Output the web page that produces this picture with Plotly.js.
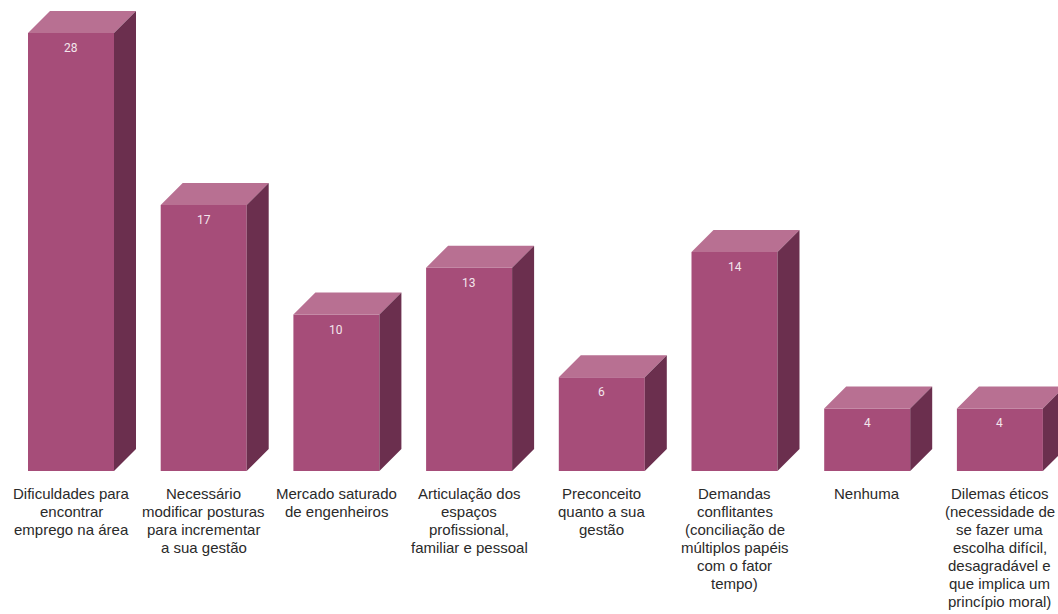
<!DOCTYPE html>
<html><head><meta charset="utf-8">
<script src="https://cdn.plot.ly/plotly-3.0.1.min.js"></script>
<style>html,body{margin:0;padding:0;background:#fff}#chart{width:1058px;height:614px}</style>
</head><body><div id="chart"></div>
<script>
const categories = [
  "Dificuldades para<br>encontrar<br>emprego na área",
  "Necessário<br>modificar posturas<br>para incrementar<br>a sua gestão",
  "Mercado saturado<br>de engenheiros",
  "Articulação dos<br>espaços<br>profissional,<br>familiar e pessoal",
  "Preconceito<br>quanto a sua<br>gestão",
  "Demandas<br>conflitantes<br>(conciliação de<br>múltiplos papéis<br>com o fator<br>tempo)",
  "Nenhuma",
  "Dilemas éticos<br>(necessidade de<br>se fazer uma<br>escolha difícil,<br>desagradável e<br>que implica um<br>princípio moral)"
];
const values = [28, 17, 10, 13, 6, 14, 4, 4];

const W = 1058, H = 614;
const step = 132.7, firstCenter = 71, baseY = 471, pxPerUnit = 15.64;
const xr = [-firstCenter/step, (W-firstCenter)/step];
const yr = [0, baseY/pxPerUnit];
const bw = 86/step;
const dx = 22/step, dy = 22/pxPerUnit;

const xs = values.map((v,i)=>i);
const traces = [{
  type:'bar', x: xs, y: values, width: bw,
  marker:{color:'#A64D79', line:{width:0}}, hoverinfo:'skip'
}];
const topX=[], topY=[], sideX=[], sideY=[];
values.forEach((v,i)=>{
  const l=i-bw/2, r=i+bw/2;
  topX.push(l, r, r+dx, l+dx, l, null);
  topY.push(v, v, v+dy, v+dy, v, null);
  sideX.push(r, r+dx, r+dx, r, r, null);
  sideY.push(0, dy, v+dy, v, 0, null);
});
traces.push({type:'scatter', mode:'lines', x:topX, y:topY, fill:'toself', fillcolor:'#B87092', line:{width:0, color:'#B87092'}, hoverinfo:'skip'});
traces.push({type:'scatter', mode:'lines', x:sideX, y:sideY, fill:'toself', fillcolor:'#6B2F4E', line:{width:0, color:'#6B2F4E'}, hoverinfo:'skip'});

const annotations = [];
values.forEach((v,i)=>{
  annotations.push({x:i, y:v, xref:'x', yref:'y', text:String(v), showarrow:false, yanchor:'top', yshift:-6,
    font:{family:'Roboto, Arial, sans-serif', size:12, color:'#F3E6EC'}});
  categories[i].split('<br>').forEach((line,k)=>{
    annotations.push({x:i, y:0, xref:'x', yref:'y', text:line, showarrow:false, yanchor:'middle', yshift:-22-18*k,
      font:{family:'"Liberation Sans", Arial, sans-serif', size:15, color:'#2a2a2a'}});
  });
});

Plotly.newPlot('chart', traces, {
  width:W, height:H, margin:{l:0, r:0, t:0, b:H-baseY, pad:0},
  paper_bgcolor:'#fff', plot_bgcolor:'#fff', showlegend:false,
  xaxis:{range:xr, showgrid:false, zeroline:false, showticklabels:false, ticks:'', fixedrange:true},
  yaxis:{range:yr, showgrid:false, zeroline:false, showticklabels:false, ticks:'', fixedrange:true},
  annotations: annotations
}, {displayModeBar:false, staticPlot:true});
</script></body></html>
